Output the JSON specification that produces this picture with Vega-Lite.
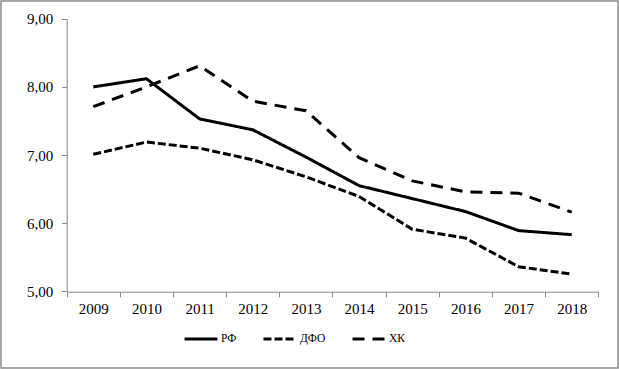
{
  "$schema": "https://vega.github.io/schema/vega-lite/v6.json",
  "width": 617,
  "height": 367,
  "autosize": {"type": "none"},
  "padding": {"left": 1, "top": 1, "right": 1, "bottom": 1},
  "background": "white",
  "config": {
    "view": {"stroke": "#8c8c8c", "strokeWidth": 1.5},
    "font": "'Liberation Serif', 'DejaVu Serif', serif"
  },
  "data": {
    "values": [
      {"year": "2009", "series": "РФ", "value": 8.00},
      {"year": "2010", "series": "РФ", "value": 8.12},
      {"year": "2011", "series": "РФ", "value": 7.53},
      {"year": "2012", "series": "РФ", "value": 7.37},
      {"year": "2013", "series": "РФ", "value": 6.97},
      {"year": "2014", "series": "РФ", "value": 6.55},
      {"year": "2015", "series": "РФ", "value": 6.36},
      {"year": "2016", "series": "РФ", "value": 6.17},
      {"year": "2017", "series": "РФ", "value": 5.89},
      {"year": "2018", "series": "РФ", "value": 5.83},
      {"year": "2009", "series": "ДФО", "value": 7.01},
      {"year": "2010", "series": "ДФО", "value": 7.19},
      {"year": "2011", "series": "ДФО", "value": 7.10},
      {"year": "2012", "series": "ДФО", "value": 6.93},
      {"year": "2013", "series": "ДФО", "value": 6.68},
      {"year": "2014", "series": "ДФО", "value": 6.39},
      {"year": "2015", "series": "ДФО", "value": 5.91},
      {"year": "2016", "series": "ДФО", "value": 5.78},
      {"year": "2017", "series": "ДФО", "value": 5.36},
      {"year": "2018", "series": "ДФО", "value": 5.25},
      {"year": "2009", "series": "ХК", "value": 7.71},
      {"year": "2010", "series": "ХК", "value": 8.00},
      {"year": "2011", "series": "ХК", "value": 8.31},
      {"year": "2012", "series": "ХК", "value": 7.79},
      {"year": "2013", "series": "ХК", "value": 7.65},
      {"year": "2014", "series": "ХК", "value": 6.96},
      {"year": "2015", "series": "ХК", "value": 6.62},
      {"year": "2016", "series": "ХК", "value": 6.46},
      {"year": "2017", "series": "ХК", "value": 6.44},
      {"year": "2018", "series": "ХК", "value": 6.16}
    ]
  },
  "mark": {"type": "line", "color": "black", "strokeWidth": 3},
  "encoding": {
    "x": {
      "field": "year",
      "type": "ordinal",
      "scale": {"type": "band", "range": [65.7, 597.3], "paddingInner": 0, "paddingOuter": 0},
      "axis": {
        "title": null,
        "labelAngle": 0,
        "offset": -76.3,
        "tickBand": "extent",
        "tickSize": 5,
        "tickColor": "#868686",
        "domainColor": "#868686",
        "labelFont": "'Liberation Serif', 'DejaVu Serif', serif",
        "labelFontSize": 15,
        "labelColor": "black",
        "labelPadding": 5
      }
    },
    "y": {
      "field": "value",
      "type": "quantitative",
      "scale": {"domain": [5, 9], "range": [290.2, 17.8], "zero": false, "nice": false},
      "axis": {
        "title": null,
        "values": [5, 6, 7, 8, 9],
        "labelExpr": "replace(format(datum.value, '.2f'), '.', ',')",
        "offset": -65.7,
        "grid": false,
        "tickSize": 5,
        "tickColor": "#868686",
        "domainColor": "#868686",
        "labelFont": "'Liberation Serif', 'DejaVu Serif', serif",
        "labelFontSize": 15,
        "labelColor": "black",
        "labelPadding": 9
      }
    },
    "strokeDash": {
      "field": "series",
      "type": "nominal",
      "scale": {"domain": ["РФ", "ДФО", "ХК"], "range": [[1, 0], [8, 3], [12, 8]]},
      "legend": {
        "title": null,
        "orient": "none",
        "legendX": 182,
        "legendY": 320,
        "direction": "horizontal",
        "gridAlign": "none",
        "symbolType": "stroke",
        "symbolSize": 1089,
        "symbolStrokeWidth": 3,
        "symbolStrokeColor": "black",
        "labelFont": "'Liberation Serif', 'DejaVu Serif', serif",
        "labelFontSize": 11.5,
        "labelColor": "black",
        "labelOffset": 2,
        "columnPadding": 20
      }
    }
  }
}
